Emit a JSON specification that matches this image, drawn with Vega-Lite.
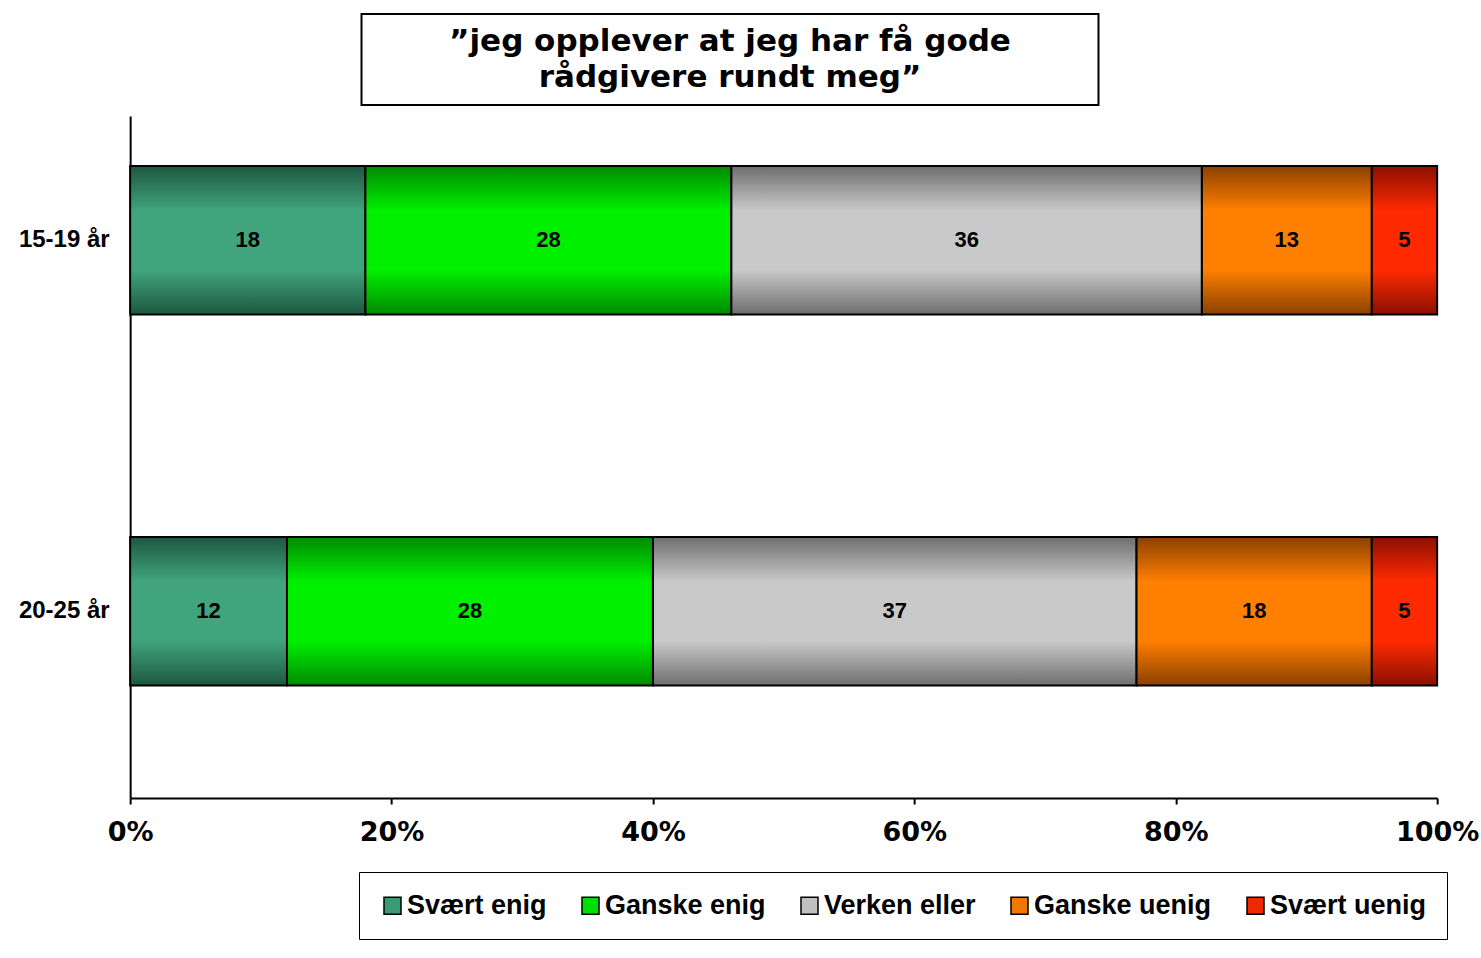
{
  "$schema": "https://vega.github.io/schema/vega-lite/v6.json",
  "padding": {"left": 18, "top": 13, "right": 0, "bottom": 0},
  "spacing": 10,
  "center": true,
  "background": "white",
  "config": {"view": {"stroke": null}, "font": "Liberation Sans"},
  "vconcat": [
    {
      "width": 737,
      "height": 91,
      "view": {"stroke": "black", "strokeWidth": 2, "fill": "white"},
      "data": {"values": [{"t": "”jeg opplever at jeg har få gode\nrådgivere rundt meg”"}]},
      "mark": {"type": "text", "font": "DejaVu Sans", "fontWeight": "bold", "fontSize": 31, "lineBreak": "\n", "lineHeight": 36, "align": "center", "baseline": "middle", "dy": -18, "color": "black"},
      "encoding": {
        "text": {"field": "t"},
        "y": {"field": "t", "type": "nominal", "axis": {"orient": "right", "title": null, "domain": false, "ticks": false, "labels": false, "minExtent": 148, "maxExtent": 148}}
      }
    },
    {
      "width": 1307,
      "height": 682,
      "data": {
        "values": [
          {"age": "15-19 år", "category": "Svært enig", "order": 1, "value": 18},
          {"age": "15-19 år", "category": "Ganske enig", "order": 2, "value": 28},
          {"age": "15-19 år", "category": "Verken eller", "order": 3, "value": 36},
          {"age": "15-19 år", "category": "Ganske uenig", "order": 4, "value": 13},
          {"age": "15-19 år", "category": "Svært uenig", "order": 5, "value": 5},
          {"age": "20-25 år", "category": "Svært enig", "order": 1, "value": 12},
          {"age": "20-25 år", "category": "Ganske enig", "order": 2, "value": 28},
          {"age": "20-25 år", "category": "Verken eller", "order": 3, "value": 37},
          {"age": "20-25 år", "category": "Ganske uenig", "order": 4, "value": 18},
          {"age": "20-25 år", "category": "Svært uenig", "order": 5, "value": 5}
        ]
      },
      "encoding": {
        "y": {
          "field": "age", "type": "nominal", "sort": ["15-19 år", "20-25 år"],
          "scale": {"paddingInner": 0.6, "paddingOuter": 0.2191, "align": 0.3075},
          "axis": {"title": null, "ticks": false, "labelPadding": 21, "labelFont": "Liberation Sans", "labelFontWeight": "bold", "labelFontSize": 24, "labelColor": "black", "domainColor": "black", "domainWidth": 2}
        },
        "x": {
          "field": "value", "type": "quantitative", "stack": "normalize",
          "scale": {"domain": [0, 1], "nice": false},
          "axis": {"title": null, "grid": false, "format": "%", "values": [0, 0.2, 0.4, 0.6, 0.8, 1], "labelFlush": false, "labelFont": "DejaVu Sans", "labelFontWeight": "bold", "labelFontSize": 27, "labelColor": "black", "labelPadding": 15, "labelBaseline": "top", "tickSize": 6, "tickWidth": 2, "tickColor": "black", "domainColor": "black", "domainWidth": 2}
        }
      },
      "layer": [
        {
          "mark": {"type": "bar", "stroke": "black", "strokeWidth": 2},
          "encoding": {
            "order": {"field": "order", "type": "quantitative"},
            "color": {
              "field": "category", "type": "nominal",
              "scale": {
                "domain": ["Svært enig", "Ganske enig", "Verken eller", "Ganske uenig", "Svært uenig"],
                "range": ["#3a9a73", "#00e000", "#c0c0c0", "#f07800", "#f02800"]
              },
              "condition": [
                {"test": "datum.category === 'Svært enig'", "value": {"gradient": "linear", "x1": 0, "y1": 0, "x2": 0, "y2": 1, "stops": [{"offset": 0, "color": "#1d5841"}, {"offset": 0.3, "color": "#40a47c"}, {"offset": 0.7, "color": "#40a47c"}, {"offset": 1, "color": "#1d5841"}]}},
                {"test": "datum.category === 'Ganske enig'", "value": {"gradient": "linear", "x1": 0, "y1": 0, "x2": 0, "y2": 1, "stops": [{"offset": 0, "color": "#008a00"}, {"offset": 0.3, "color": "#00f000"}, {"offset": 0.7, "color": "#00f000"}, {"offset": 1, "color": "#008a00"}]}},
                {"test": "datum.category === 'Verken eller'", "value": {"gradient": "linear", "x1": 0, "y1": 0, "x2": 0, "y2": 1, "stops": [{"offset": 0, "color": "#6e6e6e"}, {"offset": 0.3, "color": "#c9c9c9"}, {"offset": 0.7, "color": "#c9c9c9"}, {"offset": 1, "color": "#6e6e6e"}]}},
                {"test": "datum.category === 'Ganske uenig'", "value": {"gradient": "linear", "x1": 0, "y1": 0, "x2": 0, "y2": 1, "stops": [{"offset": 0, "color": "#8b4000"}, {"offset": 0.3, "color": "#ff7f00"}, {"offset": 0.7, "color": "#ff7f00"}, {"offset": 1, "color": "#8b4000"}]}},
                {"test": "datum.category === 'Svært uenig'", "value": {"gradient": "linear", "x1": 0, "y1": 0, "x2": 0, "y2": 1, "stops": [{"offset": 0, "color": "#8b1000"}, {"offset": 0.3, "color": "#ff2a00"}, {"offset": 0.7, "color": "#ff2a00"}, {"offset": 1, "color": "#8b1000"}]}}
              ],
              "legend": {
                "orient": "none", "legendX": 229, "legendY": 858, "direction": "horizontal", "columns": 5,
                "title": null, "strokeColor": "black", "fillColor": "white", "padding": 20,
                "labelFont": "Liberation Sans", "labelFontWeight": "bold", "labelFontSize": 27, "labelColor": "black", "labelLimit": 300,
                "symbolType": "square", "symbolSize": 289, "symbolStrokeColor": "black", "symbolStrokeWidth": 1.5,
                "labelOffset": 1, "columnPadding": 30
              }
            }
          }
        },
        {
          "mark": {"type": "text", "font": "Liberation Sans", "fontWeight": "bold", "fontSize": 22, "baseline": "middle", "align": "center", "color": "black"},
          "encoding": {
            "x": {"field": "value", "type": "quantitative", "stack": "normalize", "bandPosition": 0.5},
            "detail": {"field": "category"},
            "order": {"field": "order", "type": "quantitative"},
            "text": {"field": "value", "type": "quantitative"}
          }
        }
      ]
    }
  ]
}
